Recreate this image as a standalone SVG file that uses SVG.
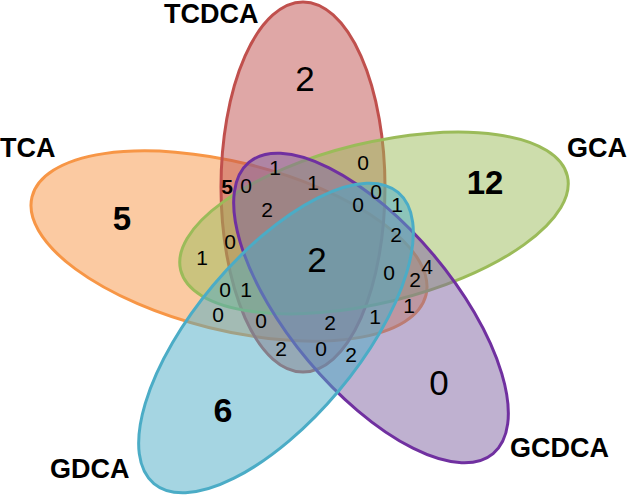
<svg xmlns="http://www.w3.org/2000/svg" width="629" height="496" viewBox="0 0 629 496">
<style>
.set{stroke-width:3;fill-opacity:0.5}
.lbl{font-family:"Liberation Sans",Arial,sans-serif;font-weight:bold;font-size:27px;fill:#000}
.n{font-family:"Liberation Sans",Arial,sans-serif;font-size:21px;fill:#000;text-anchor:middle}
.big{font-family:"Liberation Sans",Arial,sans-serif;font-size:35px;fill:#000;text-anchor:middle}
.b{font-weight:bold}
</style>
<rect width="629" height="496" fill="#fff"/>
<g id="TCA"><ellipse class="set" cx="229" cy="246" rx="203" ry="84" transform="rotate(14 229 246)" fill="#f79646" stroke="#f79646"/></g>
<g id="TCDCA"><ellipse class="set" cx="303" cy="187" rx="82" ry="185" fill="#c0504d" stroke="#c0504d"/></g>
<g id="GCA"><ellipse class="set" cx="374" cy="223" rx="199" ry="80" transform="rotate(-13.7 374 223)" fill="#9bbb59" stroke="#9bbb59"/></g>
<g id="GCDCA"><ellipse class="set" cx="371" cy="308" rx="190" ry="82" transform="rotate(50 371 308)" fill="#8064a2" stroke="#7030a0"/></g>
<g id="GDCA"><ellipse class="set" cx="276" cy="338" rx="190" ry="82" transform="rotate(-50 276 338)" fill="#4bacc6" stroke="#4bacc6"/></g>
<g id="labels">
<text class="lbl" x="164" y="23">TCDCA</text>
<text class="lbl" x="0" y="157">TCA</text>
<text class="lbl" x="567" y="157">GCA</text>
<text class="lbl" x="510" y="457">GCDCA</text>
<text class="lbl" x="50" y="478">GDCA</text>
</g>
<g id="counts">
<text class="big" x="305" y="91">2</text>
<text class="big b" x="122" y="230" style="font-size:33px">5</text>
<text class="big b" x="485" y="194" style="font-size:33px">12</text>
<text class="big" x="439" y="395">0</text>
<text class="big b" x="223" y="422" style="font-size:34px">6</text>
<text class="big" x="317" y="272">2</text>
<text class="n" x="275" y="175">1</text>
<text class="n" x="363" y="170">0</text>
<text class="n b" x="227" y="194">5</text>
<text class="n" x="246" y="193">0</text>
<text class="n" x="313" y="190">1</text>
<text class="n" x="376" y="199">0</text>
<text class="n" x="358" y="212">0</text>
<text class="n" x="267" y="217">2</text>
<text class="n" x="397" y="212">1</text>
<text class="n" x="396" y="242">2</text>
<text class="n" x="230" y="249">0</text>
<text class="n" x="202" y="265">1</text>
<text class="n" x="389" y="280">0</text>
<text class="n" x="415" y="287">2</text>
<text class="n" x="427" y="274">4</text>
<text class="n" x="225" y="297">0</text>
<text class="n" x="246" y="297">1</text>
<text class="n" x="409" y="313">1</text>
<text class="n" x="218" y="322">0</text>
<text class="n" x="261" y="328">0</text>
<text class="n" x="330" y="330">2</text>
<text class="n" x="375" y="324">1</text>
<text class="n" x="281" y="356">2</text>
<text class="n" x="321" y="356">0</text>
<text class="n" x="351" y="362">2</text>
</g>
</svg>
